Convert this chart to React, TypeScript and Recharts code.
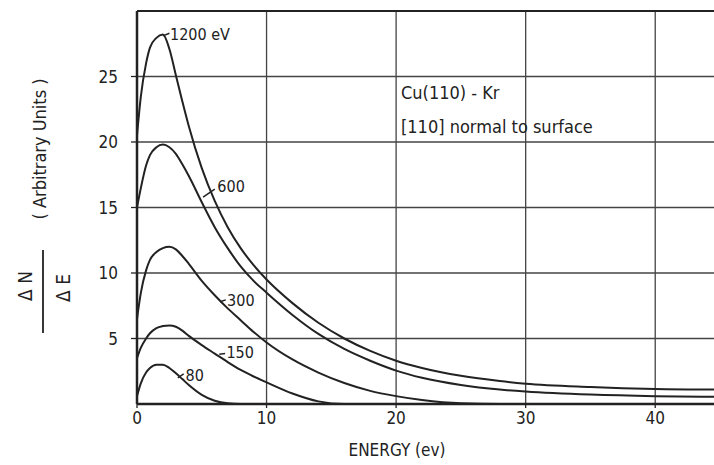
import { LineChart, Line, XAxis, YAxis, CartesianGrid, ReferenceLine, Customized } from 'recharts'

// Cu(110) - Kr, dN/dE vs energy for several primary energies
const energy = [0, 0.3, 0.7, 1, 1.5, 2, 2.5, 3, 3.5, 4, 5, 6, 7, 8, 9, 10, 12, 14, 16, 18, 20, 22, 25, 28, 30, 35, 40, 45]

const ev1200 = [20.5, 23.5, 26, 27.2, 27.95, 28.2, 27.1, 25.1, 23.1, 21.2, 18.0, 15.5, 13.5, 11.9, 10.6, 9.5, 7.7, 6.2, 5.0, 4.05, 3.3, 2.75, 2.15, 1.75, 1.55, 1.3, 1.15, 1.1]
const ev600 = [15, 16.5, 18.2, 19, 19.6, 19.8, 19.6, 19.1, 18.3, 17.4, 15.4, 13.5, 11.9, 10.5, 9.4, 8.5, 6.8, 5.35, 4.2, 3.3, 2.55, 2.0, 1.45, 1.1, 0.95, 0.72, 0.6, 0.55]
const ev300 = [6.5, 8.5, 10.2, 11, 11.6, 11.9, 12, 11.8, 11.3, 10.7, 9.4, 8.3, 7.3, 6.4, 5.5, 4.7, 3.4, 2.4, 1.6, 1.0, 0.6, 0.3, 0.05, 0, 0, 0, 0, 0]
const ev150 = [3.5, 4.3, 5, 5.4, 5.8, 5.95, 6, 5.9, 5.6, 5.2, 4.5, 3.85, 3.2, 2.6, 2.1, 1.65, 0.8, 0.2, 0, 0, 0, 0, 0, 0, 0, 0, 0, 0]
const ev80 = [0.6, 1.6, 2.4, 2.75, 3.0, 3.0, 2.75, 2.35, 1.9, 1.45, 0.7, 0.25, 0.05, 0, 0, 0, 0, 0, 0, 0, 0, 0, 0, 0, 0, 0, 0, 0]

const xTicks = [0, 10, 20, 30, 40]
const yTicks = [5, 10, 15, 20, 25]

// curve labels: text anchor (energy, value) and leader segment
const curveLabels = [
  { text: '1200 eV', x: 2.55, y: 28.2, lx1: 2.0, ly1: 28.1, lx2: 2.5, ly2: 28.3 },
  { text: '600', x: 6.2, y: 16.6, lx1: 5.1, ly1: 15.8, lx2: 6.0, ly2: 16.4 },
  { text: '300', x: 6.95, y: 7.9, lx1: 6.4, ly1: 7.8, lx2: 6.85, ly2: 7.95 },
  { text: '150', x: 6.9, y: 3.9, lx1: 6.35, ly1: 3.8, lx2: 6.8, ly2: 3.85 },
  { text: '80', x: 3.75, y: 2.2, lx1: 3.15, ly1: 2.0, lx2: 3.6, ly2: 2.3 },
]

const chartData = energy.map((e, i) => ({
  e,
  ev1200: ev1200[i],
  ev600: ev600[i],
  ev300: ev300[i],
  ev150: ev150[i],
  ev80: ev80[i],
}))

const INK = '#222'
const FONT = "'DejaVu Sans Condensed', 'Liberation Sans Narrow', 'Liberation Sans', Arial, sans-serif"

const Annotations = (props: any) => {
  const { xAxisMap, yAxisMap } = props
  const xa: any = xAxisMap ? Object.values(xAxisMap)[0] : null
  const ya: any = yAxisMap ? Object.values(yAxisMap)[0] : null
  const sx = (v: number) => (xa && xa.scale ? xa.scale(v) : 137 + v * 12.96)
  const sy = (v: number) => (ya && ya.scale ? ya.scale(v) : 404 - v * 13.1)
  return (
    <g fontFamily={FONT} fill={INK}>
      {curveLabels.map((c) => (
        <g key={c.text}>
          <line x1={sx(c.lx1)} y1={sy(c.ly1)} x2={sx(c.lx2)} y2={sy(c.ly2)} stroke={INK} strokeWidth={1.5} />
          <text x={sx(c.x)} y={sy(c.y)} fontSize={16} dominantBaseline="central">{c.text}</text>
        </g>
      ))}
      <text x={401} y={99} fontSize={18}>Cu(110) - Kr</text>
      <text x={401} y={133} fontSize={18}>[110] normal to surface</text>
    </g>
  )
}

const YLabel = () => (
  <g fontFamily={FONT} fill={INK}>
    <text transform="translate(32,286) rotate(-90)" textAnchor="middle" fontSize={19}>Δ N</text>
    <line x1={43} y1={250} x2={43} y2={333} stroke={INK} strokeWidth={1.8} />
    <text transform="translate(70,288) rotate(-90)" textAnchor="middle" fontSize={19}>Δ E</text>
    <text transform="translate(46,149) rotate(-90)" textAnchor="middle" fontSize={18}>( Arbitrary Units )</text>
  </g>
)

const XLabel = () => (
  <text x={397} y={456} textAnchor="middle" fontFamily={FONT} fontSize={17} fill={INK}>
    ENERGY (ev)
  </text>
)

export default function App() {
  return (
    <div style={{ position: 'absolute', left: 0, top: 0, width: 714, height: 465, overflow: 'hidden', background: '#fff' }}>
      <LineChart width={720} height={465} data={chartData} margin={{ top: 11, right: 0, bottom: 0, left: 0 }}>
        <CartesianGrid stroke="#444" strokeWidth={1.3} />
        <XAxis
          dataKey="e"
          type="number"
          domain={[0, 45]}
          ticks={xTicks}
          height={61}
          tickSize={4}
          tickMargin={4}
          axisLine={{ stroke: INK, strokeWidth: 2.5 }}
          tickLine={{ stroke: INK, strokeWidth: 1.3 }}
          tick={{ fill: INK, fontSize: 17, fontFamily: FONT }}
          label={<XLabel />}
        />
        <YAxis
          type="number"
          domain={[0, 30]}
          ticks={yTicks}
          width={137}
          tickSize={6}
          tickMargin={13}
          axisLine={{ stroke: INK, strokeWidth: 2.5 }}
          tickLine={{ stroke: INK, strokeWidth: 1.3 }}
          tick={{ fill: INK, fontSize: 17, fontFamily: FONT }}
          label={<YLabel />}
        />
        <ReferenceLine y={30} stroke={INK} strokeWidth={2} />
        <Line dataKey="ev1200" type="monotone" stroke={INK} strokeWidth={2} dot={false} isAnimationActive={false} />
        <Line dataKey="ev600" type="monotone" stroke={INK} strokeWidth={2} dot={false} isAnimationActive={false} />
        <Line dataKey="ev300" type="monotone" stroke={INK} strokeWidth={2} dot={false} isAnimationActive={false} />
        <Line dataKey="ev150" type="monotone" stroke={INK} strokeWidth={2} dot={false} isAnimationActive={false} />
        <Line dataKey="ev80" type="monotone" stroke={INK} strokeWidth={2} dot={false} isAnimationActive={false} />
        <Customized component={Annotations} />
      </LineChart>
    </div>
  )
}
